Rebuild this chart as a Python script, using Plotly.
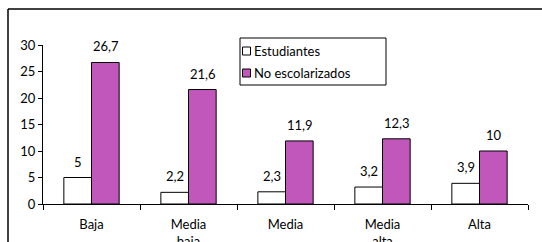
import plotly.graph_objects as go

categories = ["Baja", "Media<br>baja", "Media", "Media<br>alta", "Alta"]
estudiantes = [5, 2.2, 2.3, 3.2, 3.9]
no_escolarizados = [26.7, 21.6, 11.9, 12.3, 10]
series_names = ["Estudiantes", "No escolarizados"]
y_ticks = [0, 5, 10, 15, 20, 25, 30]

FONT = "Lato, 'Open Sans', sans-serif"
PURPLE = "#C157BA"
colors = ["white", PURPLE]

# plot area in pixels: x 43..528, y 45..204
L, R, T, B = 43, 14, 45, 38
W, H = 542, 242
PW, PH = W - L - R, H - T - B

def px(x):
    return (x - L) / PW

def py(y):
    return (H - B - y) / PH

def fmt(v):
    return ("%g" % v).replace(".", ",")

fig = go.Figure()
for name, vals, col in zip(series_names, [estudiantes, no_escolarizados], colors):
    fig.add_trace(go.Bar(x=categories, y=vals, name=name, showlegend=False,
                         marker=dict(color=col, line=dict(color="black", width=1))))

annotations = []
for vals, shift in [(estudiantes, -14), (no_escolarizados, 14)]:
    for c, v in zip(categories, vals):
        annotations.append(dict(x=c, y=v, xref="x", yref="y", text=fmt(v), showarrow=False,
                                xshift=shift, yshift=16, yanchor="middle",
                                font=dict(family=FONT, size=13, color="black")))

border = dict(color="black", width=1.5)
shapes = [
    # outer frame (top and left edges visible)
    dict(type="line", xref="paper", yref="paper", x0=px(8), x1=px(560), y0=py(9), y1=py(9), line=border),
    dict(type="line", xref="paper", yref="paper", x0=px(8), x1=px(8), y0=py(9), y1=py(300), line=border),
    # legend box
    dict(type="rect", xref="paper", yref="paper",
         x0=px(240), x1=px(386), y0=py(85), y1=py(38),
         line=dict(color="black", width=1), fillcolor="white"),
]
for i, (name, col) in enumerate(zip(series_names, colors)):
    yc = 51 + 22 * i
    shapes.append(dict(type="rect", xref="paper", yref="paper",
                       x0=px(242.5), x1=px(250.5), y0=py(yc + 4), y1=py(yc - 4),
                       line=dict(color="black", width=1), fillcolor=col))
    annotations.append(dict(x=px(252), y=py(yc), xref="paper", yref="paper", text=name,
                            showarrow=False, xanchor="left", yanchor="middle",
                            font=dict(family=FONT, size=13, color="black")))

fig.update_layout(
    template="none",
    width=W, height=H,
    margin=dict(l=L, r=R, t=T, b=B, autoexpand=False),
    paper_bgcolor="white", plot_bgcolor="white",
    barmode="group", bargap=0.43, bargroupgap=0,
    font=dict(family=FONT, size=13, color="black"),
    showlegend=False,
    annotations=annotations,
    shapes=shapes,
)
fig.update_xaxes(showline=True, linecolor="black", linewidth=1, automargin=False,
                 ticks="outside", tickson="boundaries", ticklen=5, tickcolor="black",
                 ticklabelstandoff=8,
                 showgrid=False, tickfont=dict(family=FONT, size=13, color="black"))
fig.update_yaxes(range=[0, 30], tickvals=y_ticks, showline=True, linecolor="black", linewidth=1,
                 automargin=False,
                 ticks="outside", ticklen=4, tickcolor="black", showgrid=False, zeroline=False,
                 tickfont=dict(family=FONT, size=13, color="black"))

fig.write_html("out.html", config={"displayModeBar": False},
               post_script="document.body.style.margin='0';document.body.style.overflow='hidden';")
